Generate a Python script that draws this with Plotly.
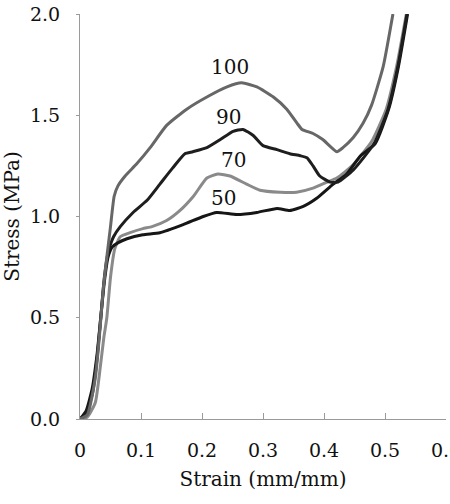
import plotly.graph_objects as go

# Strain (mm/mm) / Stress (MPa) for each curve
x100 = [0, 0.012, 0.025, 0.033, 0.038, 0.044, 0.050, 0.056, 0.062, 0.074, 0.093, 0.115, 0.142, 0.175, 0.208, 0.241, 0.265, 0.29, 0.317, 0.339, 0.356, 0.364, 0.382, 0.398, 0.421, 0.431, 0.448, 0.464, 0.478, 0.497, 0.513]
y100 = [0, 0.02, 0.2, 0.45, 0.64, 0.8, 0.95, 1.1, 1.15, 1.2, 1.26, 1.34, 1.45, 1.53, 1.59, 1.64, 1.66, 1.64, 1.59, 1.53, 1.46, 1.43, 1.41, 1.38, 1.32, 1.34, 1.39, 1.46, 1.55, 1.74, 2.0]

x90 = [0, 0.01, 0.02, 0.028, 0.034, 0.04, 0.046, 0.055, 0.066, 0.087, 0.11, 0.131, 0.152, 0.172, 0.185, 0.208, 0.23, 0.251, 0.267, 0.284, 0.3, 0.323, 0.344, 0.361, 0.372, 0.382, 0.393, 0.41, 0.423, 0.448, 0.482, 0.505, 0.521, 0.536]
y90 = [0, 0.03, 0.12, 0.3, 0.5, 0.7, 0.82, 0.9, 0.95, 1.02, 1.08, 1.16, 1.24, 1.31, 1.32, 1.34, 1.38, 1.42, 1.43, 1.4, 1.35, 1.33, 1.31, 1.3, 1.29, 1.25, 1.2, 1.17, 1.17, 1.23, 1.36, 1.53, 1.74, 2.0]

x70 = [0, 0.012, 0.025, 0.033, 0.039, 0.044, 0.05, 0.057, 0.066, 0.082, 0.103, 0.118, 0.142, 0.164, 0.186, 0.208, 0.226, 0.246, 0.273, 0.295, 0.328, 0.355, 0.382, 0.405, 0.421, 0.446, 0.478, 0.502, 0.519, 0.535]
y70 = [0, 0.01, 0.08, 0.25, 0.4, 0.5, 0.7, 0.84, 0.9, 0.92, 0.94, 0.95, 0.98, 1.03, 1.1, 1.19, 1.21, 1.2, 1.16, 1.13, 1.12, 1.12, 1.14, 1.17, 1.19, 1.25, 1.37, 1.53, 1.74, 2.0]

x50 = [0, 0.01, 0.02, 0.028, 0.034, 0.04, 0.046, 0.053, 0.062, 0.077, 0.103, 0.131, 0.169, 0.202, 0.224, 0.257, 0.29, 0.323, 0.344, 0.366, 0.388, 0.415, 0.437, 0.46, 0.484, 0.506, 0.522, 0.537]
y50 = [0, 0.04, 0.15, 0.32, 0.5, 0.68, 0.8, 0.85, 0.87, 0.89, 0.91, 0.92, 0.96, 1.0, 1.02, 1.01, 1.02, 1.04, 1.03, 1.05, 1.09, 1.16, 1.21, 1.3, 1.36, 1.53, 1.74, 2.0]

labels = ["100", "90", "70", "50"]
label_x = [0.246, 0.243, 0.251, 0.235]
label_y = [1.74, 1.49, 1.28, 1.09]

x_ticks = [0, 0.1, 0.2, 0.3, 0.4, 0.5, 0.6]
x_ticktext = ["0", "0.1", "0.2", "0.3", "0.4", "0.5", "0.6"]
y_ticks = [0, 0.5, 1.0, 1.5, 2.0]

series = [
    (x70, y70, "#8a8a8a"),
    (x50, y50, "#161616"),
    (x90, y90, "#1e1e1e"),
    (x100, y100, "#676767"),
]

FONT = "DejaVu Serif"

fig = go.Figure()
for xs, ys, col in series:
    fig.add_trace(go.Scatter(x=xs, y=ys, mode="lines",
                             line=dict(color=col, width=3, shape="spline", smoothing=0.5),
                             showlegend=False, hoverinfo="skip"))

for t, lx, ly in zip(labels, label_x, label_y):
    fig.add_annotation(x=lx, y=ly, text=t, showarrow=False,
                       font=dict(family=FONT, size=20, color="#111"))

fig.update_layout(
    width=450, height=504,
    margin=dict(l=80, r=4, t=14, b=85),
    plot_bgcolor="white", paper_bgcolor="white",
    font=dict(family=FONT, size=19, color="#111"),
)
fig.update_xaxes(range=[0, 0.6], tickvals=x_ticks, ticktext=x_ticktext,
                 automargin=False,
                 showgrid=False, zeroline=False, showline=True, linecolor="#9a9a9a", linewidth=1,
                 ticks="inside", ticklen=6, tickcolor="#9a9a9a",
                 ticklabelstandoff=14, ticklabeloverflow="allow",
                 tickfont=dict(family=FONT, size=19),
                 title=dict(text="Strain (mm/mm)", font=dict(family=FONT, size=20), standoff=12))
fig.update_yaxes(range=[0, 2.0], tickvals=y_ticks, tickformat=".1f",
                 automargin=False,
                 showgrid=False, zeroline=False, showline=True, linecolor="#9a9a9a", linewidth=1,
                 ticks="outside", ticklen=3, tickcolor="#9a9a9a",
                 ticklabelstandoff=12,
                 tickfont=dict(family=FONT, size=19),
                 title=dict(text="Stress (MPa)", font=dict(family=FONT, size=20), standoff=4))

fig.write_html("out.html")
